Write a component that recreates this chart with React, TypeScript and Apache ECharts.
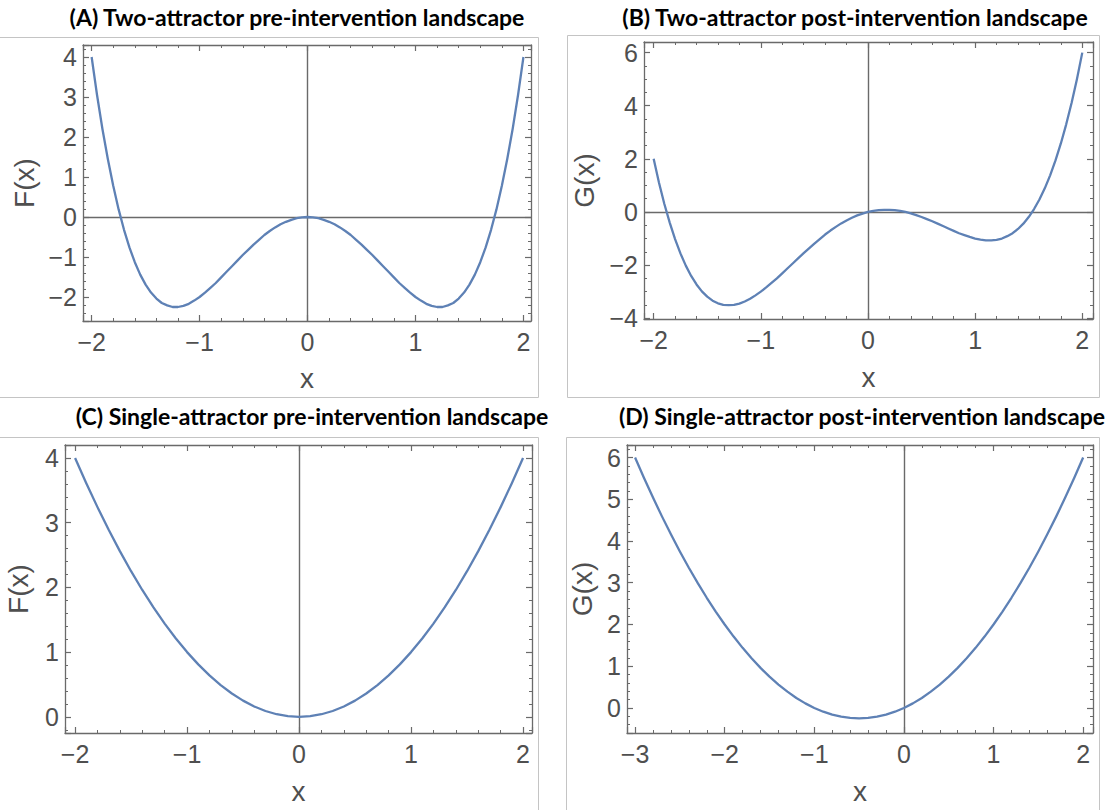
import React, { useEffect, useRef } from 'react';
import * as echarts from 'echarts';

// ---- Data ----
const titles = [
  '(A) Two-attractor pre-intervention landscape',
  '(B) Two-attractor post-intervention landscape',
  '(C) Single-attractor pre-intervention landscape',
  '(D) Single-attractor post-intervention landscape',
];
const yNames = ['F(x)', 'G(x)', 'F(x)', 'G(x)'];
const xName = 'x';

// Panels A and B: sampled at x = -2 .. 2
const xTwo = [
  -2, -1.95, -1.9, -1.85, -1.8, -1.75, -1.7, -1.65, -1.6, -1.55, -1.5, -1.45, -1.4,
  -1.35, -1.3, -1.25, -1.2, -1.15, -1.1, -1.05, -1, -0.95, -0.9, -0.85, -0.8, -0.75,
  -0.7, -0.65, -0.6, -0.55, -0.5, -0.45, -0.4, -0.35, -0.3, -0.25, -0.2, -0.15, -0.1,
  -0.05, 0, 0.05, 0.1, 0.15, 0.2, 0.25, 0.3, 0.35, 0.4, 0.45, 0.5, 0.55, 0.6, 0.65,
  0.7, 0.75, 0.8, 0.85, 0.9, 0.95, 1, 1.05, 1.1, 1.15, 1.2, 1.25, 1.3, 1.35, 1.4,
  1.45, 1.5, 1.55, 1.6, 1.65, 1.7, 1.75, 1.8, 1.85, 1.9, 1.95, 2,
];
const fTwo = [
  4, 3.05, 2.2, 1.45, 0.78, 0.19, -0.32, -0.76, -1.13, -1.44, -1.69, -1.89, -2.04,
  -2.15, -2.21, -2.25, -2.25, -2.22, -2.17, -2.09, -2, -1.89, -1.77, -1.65, -1.51,
  -1.37, -1.23, -1.09, -0.95, -0.82, -0.69, -0.57, -0.45, -0.35, -0.26, -0.18, -0.12,
  -0.07, -0.03, -0.01, 0, -0.01, -0.03, -0.07, -0.12, -0.18, -0.26, -0.35, -0.45,
  -0.57, -0.69, -0.82, -0.95, -1.09, -1.23, -1.37, -1.51, -1.65, -1.77, -1.89, -2,
  -2.09, -2.17, -2.22, -2.25, -2.25, -2.21, -2.15, -2.04, -1.89, -1.69, -1.44, -1.13,
  -0.76, -0.32, 0.19, 0.78, 1.45, 2.2, 3.05, 4,
];
const gTwo = [
  2, 1.1, 0.3, -0.4, -1.02, -1.56, -2.02, -2.41, -2.73, -2.99, -3.19, -3.34, -3.44,
  -3.5, -3.51, -3.5, -3.45, -3.37, -3.27, -3.14, -3, -2.84, -2.67, -2.5, -2.31, -2.12,
  -1.93, -1.74, -1.55, -1.37, -1.19, -1.02, -0.85, -0.7, -0.56, -0.43, -0.32, -0.22,
  -0.13, -0.06, 0, 0.04, 0.07, 0.08, 0.08, 0.07, 0.04, 0, -0.05, -0.12, -0.19, -0.27,
  -0.35, -0.44, -0.53, -0.62, -0.71, -0.8, -0.87, -0.94, -1, -1.04, -1.07, -1.07,
  -1.05, -1, -0.91, -0.8, -0.64, -0.44, -0.19, 0.11, 0.47, 0.89, 1.38, 1.94, 2.58,
  3.3, 4.1, 5, 6,
];

// Panel C: sampled at x = -2 .. 2
const xSingleC = [
  -2, -1.9, -1.8, -1.7, -1.6, -1.5, -1.4, -1.3, -1.2, -1.1, -1, -0.9, -0.8, -0.7, -0.6,
  -0.5, -0.4, -0.3, -0.2, -0.1, 0, 0.1, 0.2, 0.3, 0.4, 0.5, 0.6, 0.7, 0.8, 0.9, 1, 1.1,
  1.2, 1.3, 1.4, 1.5, 1.6, 1.7, 1.8, 1.9, 2,
];
const fSingle = [
  4, 3.61, 3.24, 2.89, 2.56, 2.25, 1.96, 1.69, 1.44, 1.21, 1, 0.81, 0.64, 0.49, 0.36,
  0.25, 0.16, 0.09, 0.04, 0.01, 0, 0.01, 0.04, 0.09, 0.16, 0.25, 0.36, 0.49, 0.64,
  0.81, 1, 1.21, 1.44, 1.69, 1.96, 2.25, 2.56, 2.89, 3.24, 3.61, 4,
];

// Panel D: sampled at x = -3 .. 2
const xSingleD = [
  -3, -2.9, -2.8, -2.7, -2.6, -2.5, -2.4, -2.3, -2.2, -2.1, -2, -1.9, -1.8, -1.7, -1.6,
  -1.5, -1.4, -1.3, -1.2, -1.1, -1, -0.9, -0.8, -0.7, -0.6, -0.5, -0.4, -0.3, -0.2,
  -0.1, 0, 0.1, 0.2, 0.3, 0.4, 0.5, 0.6, 0.7, 0.8, 0.9, 1, 1.1, 1.2, 1.3, 1.4, 1.5,
  1.6, 1.7, 1.8, 1.9, 2,
];
const gSingle = [
  6, 5.51, 5.04, 4.59, 4.16, 3.75, 3.36, 2.99, 2.64, 2.31, 2, 1.71, 1.44, 1.19, 0.96,
  0.75, 0.56, 0.39, 0.24, 0.11, 0, -0.09, -0.16, -0.21, -0.24, -0.25, -0.24, -0.21,
  -0.16, -0.09, 0, 0.11, 0.24, 0.39, 0.56, 0.75, 0.96, 1.19, 1.44, 1.71, 2, 2.31, 2.64,
  2.99, 3.36, 3.75, 4.16, 4.59, 5.04, 5.51, 6,
];

// ---- Layout / styling ----
const CURVE = '#5e81b5';
const FRAME = '#6a6a6a';
const LABEL = '#4f4f4f';
const LABEL_FONT = '"Liberation Sans", Arial, sans-serif';

type Panel = {
  grid: { left: number; top: number; width: number; height: number };
  xr: [number, number];
  yr: [number, number];
  yStep: number;
  yMinor: number;
  xs: number[];
  ys: number[];
  hLine: boolean;
  xGap: number;
  yGap: number;
  title: { x: number; y: number };
  box: { x: number; y: number; w: number; h: number };
};

const panels: Panel[] = [
  {
    grid: { left: 83, top: 45, width: 448, height: 276 },
    xr: [-2.08, 2.07], yr: [-2.6, 4.3], yStep: 1, yMinor: 5,
    xs: xTwo, ys: fTwo, hLine: true, xGap: 43, yGap: 45,
    title: { x: 297, y: 17 },
    box: { x: -2, y: 37, w: 540, h: 360 },
  },
  {
    grid: { left: 644, top: 42, width: 449, height: 277 },
    xr: [-2.09, 2.1], yr: [-4.03, 6.4], yStep: 2, yMinor: 4,
    xs: xTwo, ys: gTwo, hLine: true, xGap: 44, yGap: 46,
    title: { x: 855, y: 17 },
    box: { x: 567, y: 35, w: 532, h: 362 },
  },
  {
    grid: { left: 65, top: 445, width: 467, height: 288 },
    xr: [-2.09, 2.08], yr: [-0.25, 4.2], yStep: 1, yMinor: 5,
    xs: xSingleC, ys: fSingle, hLine: false, xGap: 44, yGap: 33,
    title: { x: 312, y: 416 },
    box: { x: -2, y: 437, w: 540, h: 400 },
  },
  {
    grid: { left: 627, top: 445, width: 466, height: 288 },
    xr: [-3.09, 2.11], yr: [-0.6, 6.3], yStep: 1, yMinor: 5,
    xs: xSingleD, ys: gSingle, hLine: false, xGap: 44, yGap: 31,
    title: { x: 862, y: 416 },
    box: { x: 566, y: 437, w: 533, h: 400 },
  },
];

const fmtTick = (step: number) => (v: number) => {
  const k = Math.round(v / step);
  if (Math.abs(v - k * step) > 1e-6) return '';
  const n = k * step;
  return n < 0 ? '\u2212' + String(Math.abs(n)) : String(n);
};

function buildOption() {
  const grid: any[] = [];
  const xAxis: any[] = [];
  const yAxis: any[] = [];
  const series: any[] = [];
  const graphic: any[] = [];

  const lineStyle = { color: FRAME, width: 1.3 };
  const tickCommon = { show: true, inside: true, length: 6, lineStyle: { color: FRAME, width: 1.2 } };
  const labelCommon = { color: LABEL, fontSize: 25, fontFamily: LABEL_FONT };
  const nameStyle = { color: LABEL, fontSize: 28, fontFamily: LABEL_FONT };

  panels.forEach((p, i) => {
    grid.push({ ...p.grid, containLabel: false, outerBoundsMode: 'none' });
    const xBase = {
      gridIndex: i, type: 'value', min: p.xr[0], max: p.xr[1], splitNumber: 5,
      axisLine: { show: true, onZero: false, lineStyle },
      axisTick: tickCommon,
      minorTick: { show: true, splitNumber: 5, length: 3, lineStyle: { color: FRAME, width: 1 } },
      splitLine: { show: false },
    };
    xAxis.push({
      ...xBase, position: 'bottom',
      axisLabel: { ...labelCommon, margin: 8, formatter: fmtTick(1) },
      name: xName, nameLocation: 'middle', nameGap: p.xGap, nameTextStyle: nameStyle,
    });
    xAxis.push({ ...xBase, position: 'top', axisLabel: { show: false } });
    const yBase = {
      gridIndex: i, type: 'value', min: p.yr[0], max: p.yr[1], splitNumber: 5,
      axisLine: { show: true, onZero: false, lineStyle },
      axisTick: tickCommon,
      minorTick: { show: true, splitNumber: p.yMinor, length: 3, lineStyle: { color: FRAME, width: 1 } },
      splitLine: { show: false },
    };
    yAxis.push({
      ...yBase, position: 'left',
      axisLabel: { ...labelCommon, margin: 6, formatter: fmtTick(p.yStep) },
      name: yNames[i], nameLocation: 'middle', nameGap: p.yGap, nameRotate: 90, nameTextStyle: nameStyle,
    });
    yAxis.push({ ...yBase, position: 'right', axisLabel: { show: false } });

    const markData: any[] = [{ xAxis: 0 }];
    if (p.hLine) markData.push({ yAxis: 0 });
    series.push({
      type: 'line',
      xAxisIndex: 2 * i,
      yAxisIndex: 2 * i,
      data: p.xs.map((x, k) => [x, p.ys[k]]),
      showSymbol: false,
      smooth: false,
      lineStyle: { color: CURVE, width: 2.3, join: 'round' },
      itemStyle: { color: CURVE },
      z: 3,
      markLine: {
        silent: true,
        symbol: 'none',
        label: { show: false },
        lineStyle: { color: FRAME, width: 1.4, type: 'solid' },
        data: markData,
        z: 2,
      },
    });

    graphic.push({
      type: 'rect',
      shape: { x: p.box.x + 0.5, y: p.box.y + 0.5, width: p.box.w, height: p.box.h },
      style: { fill: 'none', stroke: '#c4c4c4', lineWidth: 1 },
      silent: true,
      z: -1,
    });
    graphic.push({
      type: 'text',
      x: p.title.x,
      y: p.title.y,
      style: {
        text: titles[i],
        font: 'bold 23px Lato, "Open Sans", sans-serif',
        fill: '#000',
        align: 'center',
        verticalAlign: 'middle',
      },
      silent: true,
    });
  });

  return {
    animation: false,
    backgroundColor: '#ffffff',
    grid,
    xAxis,
    yAxis,
    series,
    graphic,
  };
}

export default function App() {
  const ref = useRef<HTMLDivElement>(null);
  useEffect(() => {
    if (!ref.current) return;
    const chart = echarts.init(ref.current, undefined, { renderer: 'svg' });
    chart.setOption(buildOption() as any);
    return () => chart.dispose();
  }, []);
  return (
    <div
      ref={ref}
      style={{ position: 'absolute', left: 0, top: 0, width: 1114, height: 810, background: '#fff' }}
    />
  );
}
